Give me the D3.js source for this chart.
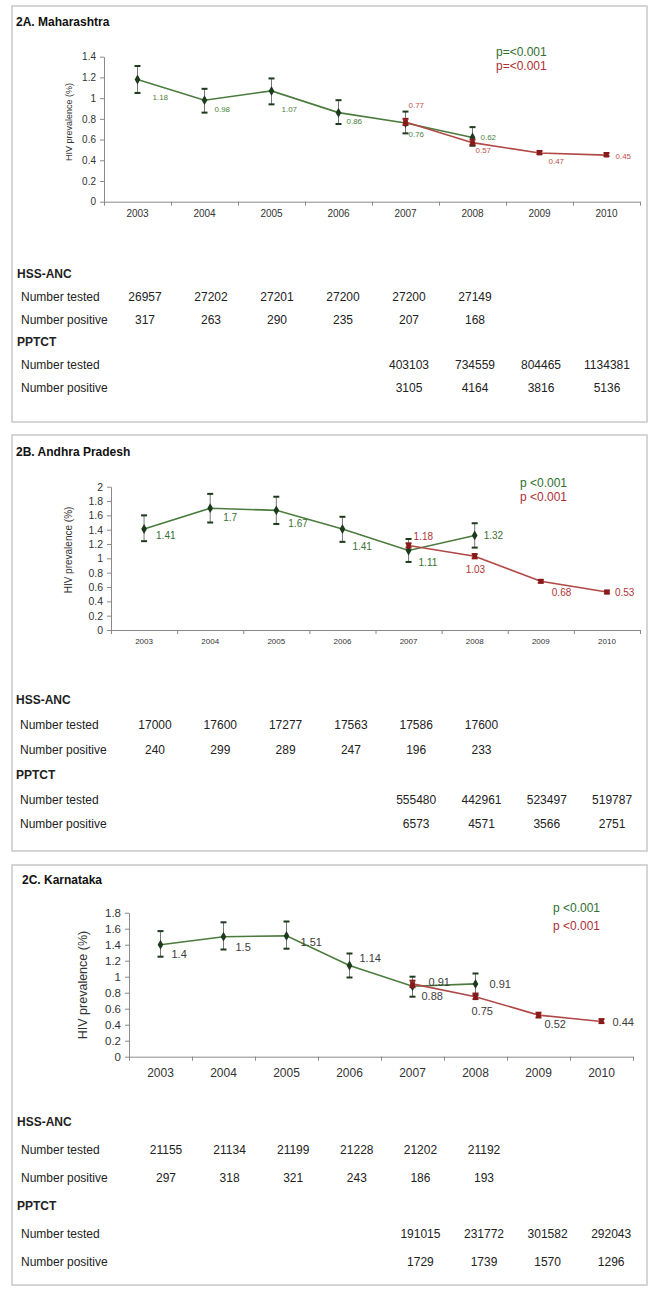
<!DOCTYPE html>
<html>
<head>
  <meta charset="utf-8">
  <title>HIV prevalence trends: HSS-ANC vs PPTCT</title>
  <script src="https://d3js.org/d3.v7.min.js"></script>
  <style>
    body {
      margin: 0;
      background: #fff;
      font-family: "Liberation Sans", Arial, sans-serif;
    }
    .box {
      fill: none;
      stroke: #c8c8c8;
      stroke-width: 1.5px;
    }
    .axis path, .axis line {
      stroke: #8a8a8a;
    }
    .axis text {
      fill: #333;
    }
  </style>
</head>
<body>
  <svg width="658" height="1292"></svg>

  <script>
    // Years on the x axis
    const years = ["2003", "2004", "2005", "2006", "2007", "2008", "2009", "2010"];
    const ancYears = ["2003", "2004", "2005", "2006", "2007", "2008"];
    const pptctYears = ["2007", "2008", "2009", "2010"];

    // 2A. Maharashtra
    const mhAnc = [1.18, 0.98, 1.07, 0.86, 0.76, 0.62];
    const mhAncLow = [1.05, 0.86, 0.94, 0.75, 0.66, 0.54];
    const mhAncHigh = [1.31, 1.09, 1.19, 0.98, 0.87, 0.72];
    const mhPptct = [0.77, 0.57, 0.47, 0.45];
    const mhPptctLow = [0.74, 0.55, 0.46, 0.44];
    const mhPptctHigh = [0.80, 0.60, 0.49, 0.47];
    const mhAncTested = [26957, 27202, 27201, 27200, 27200, 27149];
    const mhAncPositive = [317, 263, 290, 235, 207, 168];
    const mhPptctTested = [403103, 734559, 804465, 1134381];
    const mhPptctPositive = [3105, 4164, 3816, 5136];

    // 2B. Andhra Pradesh
    const apAnc = [1.41, 1.7, 1.67, 1.41, 1.11, 1.32];
    const apAncLow = [1.24, 1.50, 1.48, 1.23, 0.95, 1.15];
    const apAncHigh = [1.60, 1.90, 1.86, 1.58, 1.27, 1.49];
    const apPptct = [1.18, 1.03, 0.68, 0.53];
    const apPptctLow = [1.15, 1.00, 0.66, 0.51];
    const apPptctHigh = [1.21, 1.06, 0.70, 0.55];
    const apAncTested = [17000, 17600, 17277, 17563, 17586, 17600];
    const apAncPositive = [240, 299, 289, 247, 196, 233];
    const apPptctTested = [555480, 442961, 523497, 519787];
    const apPptctPositive = [6573, 4571, 3566, 2751];

    // 2C. Karnataka
    const kaAnc = [1.4, 1.5, 1.51, 1.14, 0.88, 0.91];
    const kaAncLow = [1.25, 1.34, 1.35, 0.99, 0.75, 0.77];
    const kaAncHigh = [1.57, 1.68, 1.69, 1.29, 1.00, 1.04];
    const kaPptct = [0.91, 0.75, 0.52, 0.44];
    const kaPptctLow = [0.87, 0.72, 0.49, 0.42];
    const kaPptctHigh = [0.95, 0.79, 0.55, 0.47];
    const kaAncTested = [21155, 21134, 21199, 21228, 21202, 21192];
    const kaAncPositive = [297, 318, 321, 243, 186, 193];
    const kaPptctTested = [191015, 231772, 301582, 292043];
    const kaPptctPositive = [1729, 1739, 1570, 1296];

    const green = "#4b7b3d", greenDark = "#1c3a1c", greenText = "#2f6e2f";
    const red = "#b04846", redDark = "#8a1a1a", redText = "#ad2f35";

    // Layout of each panel (positions and sizes only)
    const panels = [
      {
        title: "2A. Maharashtra", box: [12, 6, 647, 422], titleX: 16, titleY: 26,
        xRange: [104, 640], yBottom: 201.7, yTop: 56.7, yMax: 1.4,
        tickFont: 10, xFont: 10, xLabelY: 217, axisTitleX: 69, axisTitleY: 122, axisTitleFont: 9,
        labelFont: 8, ancLabelColor: "#4f7f3f", pptctLabelColor: "#c0504d",
        ancOffsets: [[15, 18], [10, 9], [10, 19], [8, 9], [3, 12], [8, 0]],
        pptctOffsets: [[3, -16], [3, 8], [9, 8], [9, 1]],
        pText: "p=<0.001", pX: 496, pY: [56, 70], pFont: 12,
        rows: [278, 301, 324, 346, 369, 392], headX: 17, rowX: 21, tableFont: 12,
        colX0: 145, colStep: 66,
        anc: mhAnc, ancLow: mhAncLow, ancHigh: mhAncHigh,
        pptct: mhPptct, pptctLow: mhPptctLow, pptctHigh: mhPptctHigh,
        ancTested: mhAncTested, ancPositive: mhAncPositive,
        pptctTested: mhPptctTested, pptctPositive: mhPptctPositive
      },
      {
        title: "2B. Andhra Pradesh", box: [12, 435, 647, 851], titleX: 16, titleY: 456,
        xRange: [111, 640], yBottom: 630, yTop: 486.7, yMax: 2,
        tickFont: 10.5, xFont: 8, xLabelY: 644, axisTitleX: 68, axisTitleY: 550, axisTitleFont: 10,
        labelFont: 10, ancLabelColor: "#3a7035", pptctLabelColor: "#b0343a",
        ancOffsets: [[12, 7], [13, 9], [12, 13], [10, 18], [10, 12], [9, 0]],
        pptctOffsets: [[5, -9], [-9, 13], [11, 11], [8, 0]],
        pText: "p <0.001", pX: 520, pY: [487, 501], pFont: 12,
        rows: [704, 729, 754, 779, 804, 828], headX: 16, rowX: 20, tableFont: 12,
        colX0: 155, colStep: 65.3,
        anc: apAnc, ancLow: apAncLow, ancHigh: apAncHigh,
        pptct: apPptct, pptctLow: apPptctLow, pptctHigh: apPptctHigh,
        ancTested: apAncTested, ancPositive: apAncPositive,
        pptctTested: apPptctTested, pptctPositive: apPptctPositive
      },
      {
        title: "2C. Karnataka", box: [12, 865, 647, 1285], titleX: 22, titleY: 884,
        xRange: [129, 633], yBottom: 1056.7, yTop: 912.7, yMax: 1.8,
        tickFont: 11.5, xFont: 12, xLabelY: 1077, axisTitleX: 83, axisTitleY: 985, axisTitleFont: 12.5,
        labelFont: 11, ancLabelColor: "#3c3c3c", pptctLabelColor: "#3c3c3c",
        ancOffsets: [[11, 9], [12, 10], [14, 6], [10, -8], [9, 10], [14, 0]],
        pptctOffsets: [[16, -2], [-4, 14], [6, 9], [11, 0]],
        pText: "p <0.001", pX: 553, pY: [912, 930], pFont: 12,
        rows: [1126, 1154, 1182, 1210, 1238, 1266], headX: 17, rowX: 21, tableFont: 12,
        colX0: 166, colStep: 63.6,
        anc: kaAnc, ancLow: kaAncLow, ancHigh: kaAncHigh,
        pptct: kaPptct, pptctLow: kaPptctLow, pptctHigh: kaPptctHigh,
        ancTested: kaAncTested, ancPositive: kaAncPositive,
        pptctTested: kaPptctTested, pptctPositive: kaPptctPositive
      }
    ];

    const svg = d3.select("svg");

    function drawPanel(p) {
      const g = svg.append("g");

      g.append("rect").attr("class", "box")
        .attr("x", p.box[0]).attr("y", p.box[1])
        .attr("width", p.box[2] - p.box[0]).attr("height", p.box[3] - p.box[1]);

      g.append("text")
        .attr("x", p.titleX).attr("y", p.titleY)
        .attr("font-size", 12).attr("font-weight", "bold").attr("fill", "#111")
        .text(p.title);

      // Scales
      const x = d3.scaleBand().domain(years).range(p.xRange);
      const y = d3.scaleLinear().domain([0, p.yMax]).range([p.yBottom, p.yTop]);
      const cx = d => x(d) + x.bandwidth() / 2;

      // Y axis
      const yTicks = d3.range(0, p.yMax + 0.001, 0.2).map(v => +v.toFixed(1));
      g.append("g").attr("class", "axis")
        .attr("transform", `translate(${p.xRange[0]},0)`)
        .call(d3.axisLeft(y).tickValues(yTicks).tickSize(4).tickSizeOuter(0)
          .tickFormat(d => String(+d.toFixed(1))))
        .call(a => a.selectAll("text").attr("font-size", p.tickFont)
          .attr("font-family", "Liberation Sans, Arial, sans-serif").attr("dx", "-1"));

      // X axis: ticks at category boundaries, labels at centers
      const xb = d3.scaleLinear().domain([0, years.length]).range(p.xRange);
      g.append("g").attr("class", "axis")
        .attr("transform", `translate(0,${p.yBottom})`)
        .call(d3.axisBottom(xb).ticks(years.length).tickSize(4).tickSizeOuter(0).tickFormat(""));
      g.append("g").attr("class", "axis")
        .attr("transform", `translate(0,${p.xLabelY})`)
        .call(d3.axisBottom(x).tickSize(0).tickPadding(0))
        .call(a => a.select(".domain").remove())
        .call(a => a.selectAll("text").attr("dy", 0).attr("font-size", p.xFont)
          .attr("font-family", "Liberation Sans, Arial, sans-serif"));

      g.append("text")
        .attr("transform", `translate(${p.axisTitleX},${p.axisTitleY}) rotate(-90)`)
        .attr("text-anchor", "middle").attr("dominant-baseline", "central")
        .attr("font-size", p.axisTitleFont).attr("fill", "#333")
        .text("HIV prevalence (%)");

      // Series drawing
      function series(yrs, vals, lows, highs, lineColor, capColor, symbol, size) {
        const pts = yrs.map((yr, i) => ({ yr, v: vals[i], lo: lows[i], hi: highs[i] }));
        const s = g.append("g");
        s.append("path").datum(pts)
          .attr("fill", "none").attr("stroke", lineColor).attr("stroke-width", 1.6)
          .attr("d", d3.line().x(d => cx(d.yr)).y(d => y(d.v)));
        const bars = s.selectAll(".err").data(pts).join("g");
        bars.append("line")
          .attr("x1", d => cx(d.yr)).attr("x2", d => cx(d.yr))
          .attr("y1", d => y(d.lo)).attr("y2", d => y(d.hi))
          .attr("stroke", "#555").attr("stroke-width", 0.8);
        ["lo", "hi"].forEach(k => {
          bars.append("line")
            .attr("x1", d => cx(d.yr) - 3).attr("x2", d => cx(d.yr) + 3)
            .attr("y1", d => y(d[k])).attr("y2", d => y(d[k]))
            .attr("stroke", capColor).attr("stroke-width", 2);
        });
        s.selectAll(".mk").data(pts).join("path")
          .attr("transform", d => `translate(${cx(d.yr)},${y(d.v)})`)
          .attr("fill", capColor)
          .attr("d", d3.symbol().type(symbol).size(size));
        return pts;
      }

      const ancPts = series(ancYears, p.anc, p.ancLow, p.ancHigh, green, greenDark, d3.symbolDiamond, 28);
      const pptctPts = series(pptctYears, p.pptct, p.pptctLow, p.pptctHigh, red, redDark, d3.symbolSquare, 22);

      // Value labels
      function labels(pts, offsets, color) {
        g.selectAll(null).data(pts).join("text")
          .attr("x", (d, i) => cx(d.yr) + offsets[i][0])
          .attr("y", (d, i) => y(d.v) + offsets[i][1])
          .attr("dominant-baseline", "central")
          .attr("font-size", p.labelFont).attr("fill", color)
          .text(d => String(d.v));
      }
      labels(ancPts, p.ancOffsets, p.ancLabelColor);
      labels(pptctPts, p.pptctOffsets, p.pptctLabelColor);

      // p-values
      g.append("text").attr("x", p.pX).attr("y", p.pY[0])
        .attr("font-size", p.pFont).attr("fill", greenText).text(p.pText);
      g.append("text").attr("x", p.pX).attr("y", p.pY[1])
        .attr("font-size", p.pFont).attr("fill", redText).text(p.pText);

      // Table under the chart
      const col = i => p.colX0 + p.colStep * i;
      const t = g.append("g").attr("font-size", p.tableFont).attr("fill", "#222");
      t.append("text").attr("x", p.headX).attr("y", p.rows[0]).attr("font-weight", "bold").text("HSS-ANC");
      t.append("text").attr("x", p.rowX).attr("y", p.rows[1]).text("Number tested");
      t.append("text").attr("x", p.rowX).attr("y", p.rows[2]).text("Number positive");
      t.append("text").attr("x", p.headX).attr("y", p.rows[3]).attr("font-weight", "bold").text("PPTCT");
      t.append("text").attr("x", p.rowX).attr("y", p.rows[4]).text("Number tested");
      t.append("text").attr("x", p.rowX).attr("y", p.rows[5]).text("Number positive");

      const rowData = [
        [p.ancTested, 0, p.rows[1]],
        [p.ancPositive, 0, p.rows[2]],
        [p.pptctTested, 4, p.rows[4]],
        [p.pptctPositive, 4, p.rows[5]]
      ];
      rowData.forEach(([vals, start, ry]) => {
        t.selectAll(null).data(vals).join("text")
          .attr("x", (d, i) => col(start + i)).attr("y", ry)
          .attr("text-anchor", "middle")
          .text(d => d);
      });
    }

    panels.forEach(drawPanel);
  </script>
</body>
</html>
